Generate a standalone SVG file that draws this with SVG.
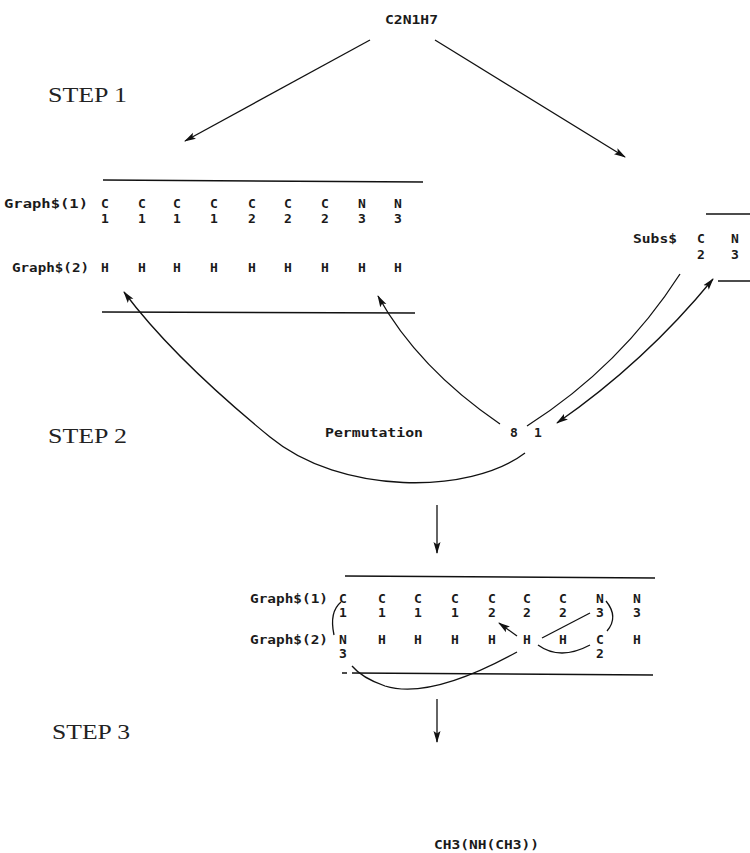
<svg xmlns="http://www.w3.org/2000/svg" width="750" height="853" viewBox="0 0 750 853">
<style>
.dm{font-family:"DejaVu Sans Mono","Liberation Mono",monospace;font-size:13px;font-weight:bold;fill:#1a1a1a}
.c{text-anchor:middle}
.step{font-family:"Liberation Serif","DejaVu Serif",serif;font-size:21px;fill:#222}
.ln{stroke:#111;stroke-width:1.5;fill:none}
.ar{stroke:#111;stroke-width:1.3;fill:none}
</style>
<defs>
<marker id="ah" viewBox="0 0 12 8" refX="11" refY="4" markerWidth="12" markerHeight="8" markerUnits="userSpaceOnUse" orient="auto-start-reverse">
<path d="M0,0.5 L12,4 L0,7.5 L2.5,4 z" fill="#111"/>
</marker>
</defs>
<rect width="750" height="853" fill="#fff"/>

<g id="title"><text class="dm" x="385" y="24" textLength="53" lengthAdjust="spacingAndGlyphs">C2N1H7</text></g>
<g id="step1"><text class="step" x="48" y="102" textLength="79" lengthAdjust="spacingAndGlyphs">STEP 1</text></g>
<g id="step2"><text class="step" x="48" y="443" textLength="79" lengthAdjust="spacingAndGlyphs">STEP 2</text></g>
<g id="step3"><text class="step" x="52" y="739" textLength="78" lengthAdjust="spacingAndGlyphs">STEP 3</text></g>

<g id="graph1">
<line class="ln" x1="103" y1="180" x2="423" y2="182"/>
<line class="ln" x1="102" y1="312" x2="415" y2="313"/>
<text class="dm" x="4" y="208" textLength="84" lengthAdjust="spacingAndGlyphs">Graph$(1)</text>
<text class="dm" x="12" y="272" textLength="77" lengthAdjust="spacingAndGlyphs">Graph$(2)</text>
<g class="dm c">
<text x="105" y="208">C</text><text x="142" y="208">C</text><text x="177" y="208">C</text><text x="214" y="208">C</text><text x="252" y="208">C</text><text x="288" y="208">C</text><text x="325" y="208">C</text><text x="362" y="208">N</text><text x="398" y="208">N</text>
<text x="105" y="223">1</text><text x="142" y="223">1</text><text x="177" y="223">1</text><text x="214" y="223">1</text><text x="252" y="223">2</text><text x="288" y="223">2</text><text x="325" y="223">2</text><text x="362" y="223">3</text><text x="398" y="223">3</text>
<text x="105" y="272">H</text><text x="142" y="272">H</text><text x="177" y="272">H</text><text x="214" y="272">H</text><text x="252" y="272">H</text><text x="288" y="272">H</text><text x="325" y="272">H</text><text x="362" y="272">H</text><text x="398" y="272">H</text>
</g>
</g>

<g id="subs">
<line class="ln" x1="706" y1="214" x2="750" y2="214"/>
<line class="ln" x1="718" y1="281" x2="750" y2="281"/>
<text class="dm" x="633" y="243" textLength="44" lengthAdjust="spacingAndGlyphs">Subs$</text>
<g class="dm c">
<text x="701" y="243">C</text><text x="735" y="243">N</text>
<text x="701" y="259">2</text><text x="735" y="259">3</text>
</g>
</g>

<g id="permutation">
<text class="dm" x="325" y="437" textLength="98" lengthAdjust="spacingAndGlyphs">Permutation</text>
<text class="dm c" x="514" y="437">8</text>
<text class="dm c" x="538" y="437">1</text>
</g>

<g id="graph2">
<line class="ln" x1="345" y1="576" x2="655" y2="578"/>
<line class="ln" x1="342" y1="673" x2="347" y2="673"/>
<line class="ln" x1="352" y1="673" x2="653" y2="675"/>
<text class="dm" x="250" y="603" textLength="78" lengthAdjust="spacingAndGlyphs">Graph$(1)</text>
<text class="dm" x="250" y="644" textLength="78" lengthAdjust="spacingAndGlyphs">Graph$(2)</text>
<g class="dm c">
<text x="343" y="603">C</text><text x="382" y="603">C</text><text x="418" y="603">C</text><text x="455" y="603">C</text><text x="492" y="603">C</text><text x="527" y="603">C</text><text x="563" y="603">C</text><text x="600" y="603">N</text><text x="637" y="603">N</text>
<text x="343" y="617">1</text><text x="382" y="617">1</text><text x="418" y="617">1</text><text x="455" y="617">1</text><text x="492" y="617">2</text><text x="527" y="617">2</text><text x="563" y="617">2</text><text x="600" y="617">3</text><text x="637" y="617">3</text>
<text x="343" y="644">N</text><text x="382" y="644">H</text><text x="418" y="644">H</text><text x="455" y="644">H</text><text x="492" y="644">H</text><text x="527" y="644">H</text><text x="563" y="644">H</text><text x="600" y="644">C</text><text x="637" y="644">H</text>
<text x="343" y="658">3</text><text x="600" y="658">2</text>
</g>
</g>

<g id="connectors">
<line class="ar" x1="370" y1="40" x2="185" y2="141" marker-end="url(#ah)"/>
<line class="ar" x1="435" y1="40" x2="625" y2="157" marker-end="url(#ah)"/>
<path class="ar" d="M500,424 Q418,368 378,296" marker-end="url(#ah)"/>
<path class="ar" d="M525,453 C470,495 340,495 270,437 C215,392 160,340 124,292" marker-end="url(#ah)"/>
<path class="ar" d="M680,274 Q621,366 527,426"/>
<path class="ar" d="M557,423 Q645,362 713,279" marker-start="url(#ah)" marker-end="url(#ah)"/>
<line class="ar" x1="437" y1="505" x2="437" y2="553" marker-end="url(#ah)"/>
<line class="ar" x1="437" y1="699" x2="437" y2="742" marker-end="url(#ah)"/>
<path class="ar" d="M341,602 Q329,612 334,635"/>
<path class="ar" d="M606,601 Q619,617 607,631"/>
<line class="ar" x1="590" y1="613" x2="542" y2="638"/>
<line class="ar" x1="517" y1="636" x2="499" y2="623" marker-end="url(#ah)"/>
<path class="ar" d="M538,645 Q560,661 590,645"/>
<path class="ar" d="M517,652 Q430,700 385,686 Q362,678 352,666"/>
</g>

<g id="result"><text class="dm" x="434" y="849" textLength="105" lengthAdjust="spacingAndGlyphs">CH3(NH(CH3))</text></g>
</svg>
